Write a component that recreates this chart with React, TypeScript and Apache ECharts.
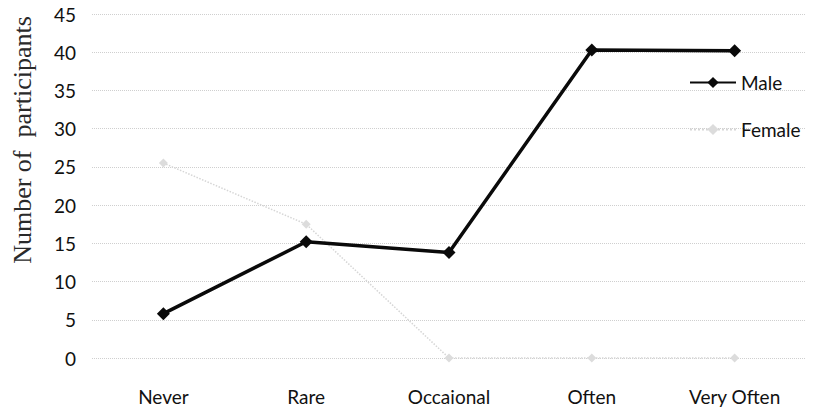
import React, { useEffect, useRef } from "react";
import * as echarts from "echarts";

const categories = ["Never", "Rare", "Occaional", "Often", "Very Often"];
const maleValues = [5.8, 15.2, 13.8, 40.3, 40.2];
const femaleValues = [25.5, 17.5, 0, 0, 0];
const yTicks = { min: 0, max: 45, interval: 5 };
const yAxisTitle = "Number of  participants";

export default function App() {
  const ref = useRef<HTMLDivElement>(null);
  useEffect(() => {
    if (!ref.current) return;
    const chart = echarts.init(ref.current, null, { renderer: "svg" });
    const font = "Lato, 'Open Sans', sans-serif";
    chart.setOption({
      animation: false,
      backgroundColor: "#ffffff",
      grid: { left: 92, right: 9, top: 14, bottom: 61, containLabel: false },
      legend: {
        orient: "vertical",
        left: 684,
        top: 68,
        itemWidth: 46,
        itemHeight: 14,
        itemGap: 28,
        textStyle: { fontFamily: font, fontSize: 19, color: "#111" },
        data: ["Male", "Female"],
      },
      xAxis: {
        type: "category",
        data: categories,
        boundaryGap: true,
        axisLine: { show: false },
        axisTick: { show: false },
        axisLabel: { fontFamily: font, fontSize: 19, color: "#111", margin: 29 },
      },
      yAxis: {
        type: "value",
        min: yTicks.min,
        max: yTicks.max,
        interval: yTicks.interval,
        axisLine: { show: false },
        axisTick: { show: false },
        axisLabel: { fontFamily: font, fontSize: 19, color: "#111", margin: 16 },
        splitLine: { show: true, lineStyle: { color: "#cfcfcf", type: "dotted", width: 1 } },
      },
      graphic: [
        {
          type: "text",
          x: 22,
          y: 140,
          rotation: Math.PI / 2,
          style: {
            text: yAxisTitle,
            fontFamily: "'Liberation Serif', 'DejaVu Serif', serif",
            fontSize: 26,
            fill: "#2a2a2a",
            textAlign: "center",
            textVerticalAlign: "middle",
          },
        },
      ],
      series: [
        {
          name: "Male",
          type: "line",
          data: maleValues,
          symbol: "diamond",
          symbolSize: 13,
          itemStyle: { color: "#0a0a0a" },
          lineStyle: { color: "#0a0a0a", width: 3.5 },
          z: 3,
        },
        {
          name: "Female",
          type: "line",
          data: femaleValues,
          symbol: "diamond",
          symbolSize: 9,
          itemStyle: { color: "#dcdcdc" },
          lineStyle: { color: "#d6d6d6", width: 1.5, type: "dotted" },
          z: 2,
        },
      ],
    });
    return () => chart.dispose();
  }, []);
  return (
    <div
      ref={ref}
      style={{ position: "fixed", left: 0, top: 0, width: 815, height: 419 }}
    />
  );
}
